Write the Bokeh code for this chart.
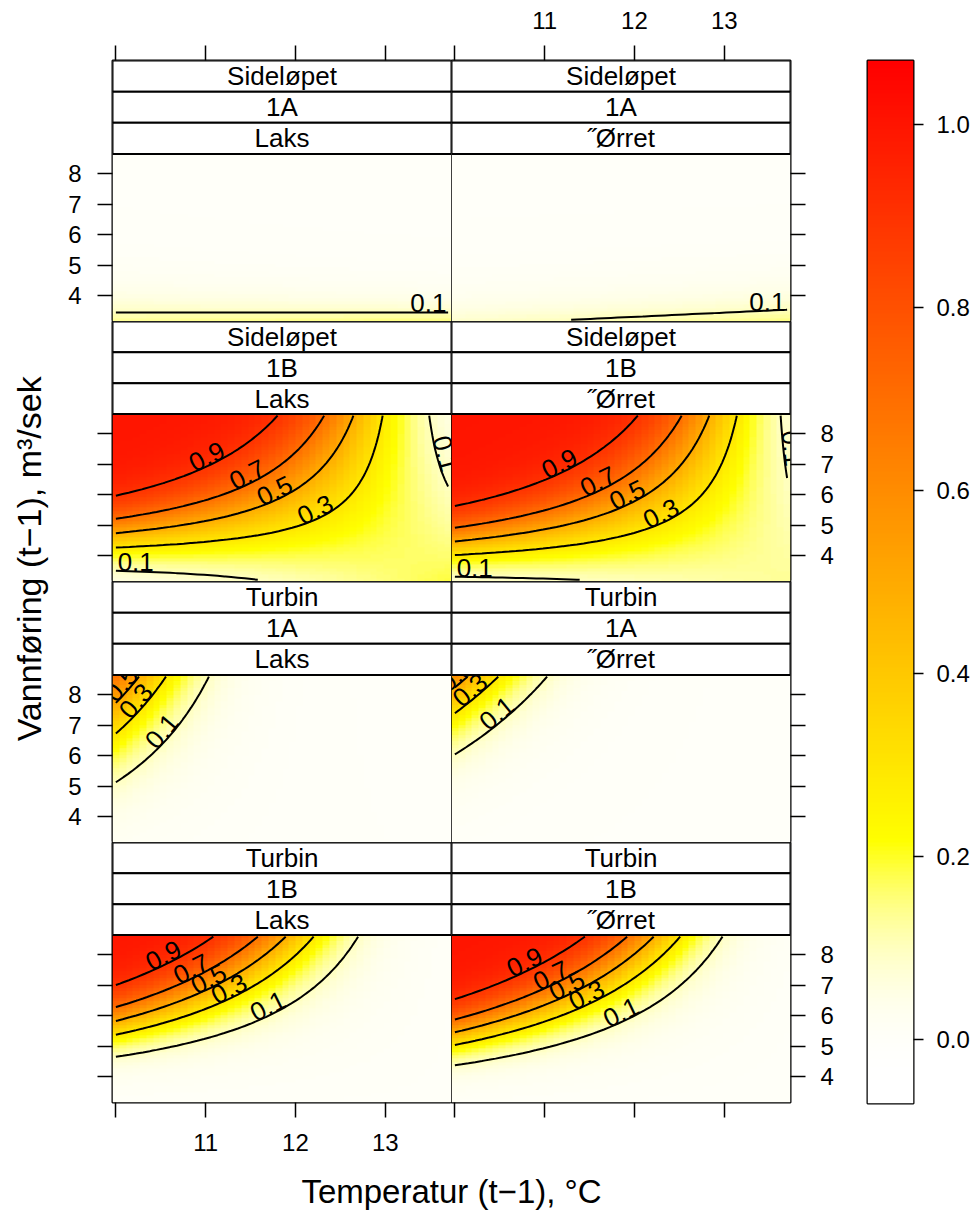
import colorsys
import numpy as np
import contourpy
from bokeh.plotting import figure
from bokeh.layouts import row, column
from bokeh.models import (Range1d, LinearColorMapper, FixedTicker, LinearAxis,
                          ColumnDataSource, PrintfTickFormatter)
from bokeh.core.properties import value
from bokeh.embed import file_html
from bokeh.resources import INLINE

# ------------------------------------------------------------------ data
location = ["Sideløpet", "Sideløpet", "Sideløpet", "Sideløpet",
            "Turbin", "Turbin", "Turbin", "Turbin"]
site = ["1A", "1A", "1B", "1B", "1A", "1A", "1B", "1B"]
species = ["Laks", "˝Ørret", "Laks", "˝Ørret", "Laks", "˝Ørret", "Laks", "˝Ørret"]

# fitted surface per panel (read from the contour positions):
# logit(p) = intercept + temp_coef*(T-10) + flow_coef*(Q-4) + interaction*(T-10)*(Q-4)
intercept = [-2.912, -3.456, -1.325, -0.893, -3.152, -4.240, -3.420, -2.960]
temp_coef = [-0.0825, 0.179, -0.090, -0.285, -1.220, -1.290, -0.513, -0.703]
flow_coef = [-1.30, -1.30, 1.79, 1.90, 0.845, 1.00, 1.87, 2.03]
interaction = [-0.15, 0.0, -0.548, -0.540, -0.350, -0.260, -0.483, -0.4725]
temp_centre = 10.0
flow_centre = 4.0

temp_limits = [10.0, 13.7]
flow_limits = [3.21, 8.59]
n_grid = 50

temp_ticks = [10, 11, 12, 13]
temp_unlabelled = [10]
flow_ticks = [4, 5, 6, 7, 8]
contour_levels = [0.1, 0.3, 0.5, 0.7, 0.9]
contour_labels = ["0.1", "0.3", "0.5", "0.7", "0.9"]
key_limits = [-0.07, 1.07]
key_ticks = [0.0, 0.2, 0.4, 0.6, 0.8, 1.0]

x_title = "Temperatur (t−1), °C"
y_title = "Vannføring (t−1), m³/sek"

# ------------------------------------------------------------------ style / layout
FONT = "Liberation Sans"
YT_W = 56            # width of the y-title column
LEFT_B = 56          # left border of left-column panels
PANEL_W = 339
PANEL_H = 167.5
FRAME_H = [261, 260, 261, 260]
TOP_B = 60
BOTTOM_B = 62
RIGHT_B = 60
XT_H = 52
TOTAL_H = 1216
TICK_FS = "24px"
STRIP_FS = "26px"
LAB_FS = 26
XTITLE_FS = "33px"
YTITLE_FS = "34px"
LW = 2


def heat(u):
    if u < 0.25:
        h, s = 1 / 6, (u / 0.25) ** 2.6
    else:
        h, s = (1 / 6) * (1 - (u - 0.25) / 0.75), 1.0
    r, g, b = colorsys.hsv_to_rgb(h, s, 1.0)
    return "#%02x%02x%02x" % (round(r * 255), round(g * 255), round(b * 255))


palette = [heat(k / 255) for k in range(256)]
mapper = LinearColorMapper(palette=palette, low=key_limits[0], high=key_limits[1])

T = np.linspace(temp_limits[0], temp_limits[1], n_grid)
Q = np.linspace(flow_limits[0], flow_limits[1], n_grid)
dT = T[1] - T[0]
dQ = Q[1] - Q[0]
x_lo, x_hi = T[0] - dT / 2, T[-1] + dT / 2
q_lo, q_hi = Q[0] - dQ / 2, Q[-1] + dQ / 2
TT, QQ = np.meshgrid(T, Q)


def surface(i):
    t = TT - temp_centre
    q = QQ - flow_centre
    eta = intercept[i] + temp_coef[i] * t + flow_coef[i] * q + interaction[i] * t * q
    return 1.0 / (1.0 + np.exp(-eta))


def add_axis(p, side, ticks, show, standoff, tick_out=15, hide=None, fmt=None):
    ax = LinearAxis(ticker=FixedTicker(ticks=ticks))
    ax.axis_line_color = None
    ax.major_tick_out = tick_out
    ax.major_tick_in = 0
    ax.major_tick_line_color = "black"
    ax.major_tick_line_width = 1.5
    ax.minor_tick_line_color = None
    ax.major_label_standoff = standoff
    ax.major_label_text_font = FONT
    ax.major_label_text_font_size = TICK_FS
    if show:
        ax.major_label_text_color = "black"
    else:
        ax.major_label_text_color = None
        ax.major_label_text_alpha = 0
    if fmt is not None:
        ax.formatter = fmt
    if hide and show:
        ax.major_label_overrides = {h: "" for h in hide}
    p.add_layout(ax, side)


def make_panel(i, r, c):
    fh = FRAME_H[r]
    y_end = q_lo + (q_hi - q_lo) * fh / PANEL_H
    if c == 0:
        width, mbl, mbr = LEFT_B + PANEL_W, LEFT_B, 0
    else:
        width, mbl, mbr = PANEL_W + RIGHT_B, 0, RIGHT_B
    mbt = TOP_B if r == 0 else 0
    mbb = BOTTOM_B if r == 3 else 0
    p = figure(width=width, height=fh + mbt + mbb,
               x_range=Range1d(x_lo, x_hi), y_range=Range1d(q_lo, y_end),
               x_axis_type=None, y_axis_type=None,
               toolbar_location=None, output_backend="svg",
               min_border=0, min_border_left=mbl, min_border_right=mbr,
               min_border_top=mbt, min_border_bottom=mbb)
    p.outline_line_color = "black"
    p.outline_line_width = LW
    p.background_fill_color = "white"
    p.border_fill_color = "white"

    Z = surface(i)
    p.image(image=[Z], x=x_lo, y=q_lo, dw=x_hi - x_lo, dh=q_hi - q_lo,
            color_mapper=mapper)

    gen = contourpy.contour_generator(x=T, y=Q, z=Z, line_type="Separate")
    sx = PANEL_W / (x_hi - x_lo)
    sy = PANEL_H / (q_hi - q_lo)
    lxs, lys = [], []
    tx, ty, tt, ta = [], [], [], []
    half = 0.7 * LAB_FS + 5
    for lev, lab in zip(contour_levels, contour_labels):
        for seg in gen.lines(lev):
            if len(seg) < 2:
                continue
            lxs.append(list(seg[:, 0]))
            lys.append(list(seg[:, 1]))
            X = (seg[:, 0] - x_lo) * sx
            Y = (seg[:, 1] - q_lo) * sy
            dX = np.diff(X)
            dY = np.diff(Y)
            if np.ptp(Y) < 20 and np.ptp(X) > 60:
                dXs = np.where(np.abs(dX) < 1e-9, 1e-9, dX)
                sl = np.abs(dY / dXs)
                cand = np.where(sl <= sl.min() + 1e-3)[0]
                k = cand[np.argmax(X[cand] + X[cand + 1])]
                px = (X[k] + X[k + 1]) / 2
                px = min(max(px, half), PANEL_W - half)
                order = np.argsort(X)
                py = np.interp(px, X[order], Y[order])
                ang = 0.0
            else:
                rX = np.ptp(X) or 1.0
                rY = np.ptp(Y) or 1.0
                depth = np.minimum(np.minimum(X - X.min(), X.max() - X) / rX,
                                   np.minimum(Y - Y.min(), Y.max() - Y) / rY)
                k = min(int(np.argmax(depth)), len(dX) - 1)
                px, py = X[k], Y[k]
                ang = np.arctan(dY[k] / dX[k]) if abs(dX[k]) > 1e-9 else np.pi / 2
            tx.append(x_lo + px / sx)
            ty.append(q_lo + py / sy)
            tt.append(lab)
            ta.append(ang)
    if lxs:
        p.multi_line(xs=lxs, ys=lys, line_color="black", line_width=LW)
    if tx:
        p.text(x="x", y="y", text="t", angle="a",
               source=ColumnDataSource(dict(x=tx, y=ty, t=tt, a=ta)),
               text_align="center", text_baseline="bottom",
               text_font=value(FONT), text_font_size="%dpx" % LAB_FS,
               text_color="black")

    # strips (top: location, middle: site, bottom: species)
    sh = (y_end - q_hi) / 3.0
    bottoms = [q_hi + 2 * sh, q_hi + sh, q_hi]
    tops = [b + sh for b in bottoms]
    p.quad(left=[x_lo] * 3, right=[x_hi] * 3, bottom=bottoms, top=tops,
           fill_color="white", line_color="black", line_width=LW)
    p.text(x=[(x_lo + x_hi) / 2] * 3, y=[b + sh / 2 for b in bottoms],
           text=[location[i], site[i], species[i]],
           text_align="center", text_baseline="middle",
           text_font=value(FONT), text_font_size=STRIP_FS, text_color="black")

    # alternating axes
    if c == 0:
        add_axis(p, "left", flow_ticks, r in (0, 2), 16)
    else:
        add_axis(p, "right", flow_ticks, r in (1, 3), 15)
    if r == 0:
        add_axis(p, "above", temp_ticks, c == 1, 17, hide=temp_unlabelled)
    if r == 3:
        add_axis(p, "below", temp_ticks, c == 0, 16, hide=temp_unlabelled)
    return p


rows = []
for r in range(4):
    rows.append(row(make_panel(2 * r, r, 0), make_panel(2 * r + 1, r, 1)))

center_w = LEFT_B + PANEL_W + PANEL_W + RIGHT_B
xt = figure(width=center_w, height=XT_H, x_range=Range1d(0, center_w),
            y_range=Range1d(0, XT_H), x_axis_type=None, y_axis_type=None,
            toolbar_location=None, output_backend="svg", min_border=0)
xt.outline_line_color = None
xt.text(x=[LEFT_B + PANEL_W], y=[25], text=[x_title], text_align="center",
        text_baseline="alphabetic", text_font=value(FONT),
        text_font_size=XTITLE_FS, text_color="black")

yt = figure(width=YT_W, height=TOTAL_H, x_range=Range1d(0, YT_W),
            y_range=Range1d(0, TOTAL_H), x_axis_type=None, y_axis_type=None,
            toolbar_location=None, output_backend="svg", min_border=0)
yt.outline_line_color = None
panels_mid = TOP_B + sum(FRAME_H) / 2
yt.text(x=[YT_W / 2], y=[TOTAL_H - panels_mid], text=[y_title], angle=np.pi / 2,
        text_align="center", text_baseline="middle", text_font=value(FONT),
        text_font_size=YTITLE_FS, text_color="black")

key_w = 977 - YT_W - center_w
kp = figure(width=key_w, height=TOTAL_H, x_range=Range1d(0, 1),
            y_range=Range1d(key_limits[0], key_limits[1]),
            x_axis_type=None, y_axis_type=None, toolbar_location=None,
            output_backend="svg", min_border=0, min_border_left=17,
            min_border_right=key_w - 17 - 46, min_border_top=TOP_B,
            min_border_bottom=TOTAL_H - TOP_B - 1043)
kp.outline_line_color = "black"
kp.outline_line_width = LW
vals = np.linspace(key_limits[0], key_limits[1], 256).reshape(-1, 1)
kp.image(image=[vals], x=0, y=key_limits[0], dw=1, dh=key_limits[1] - key_limits[0],
         color_mapper=mapper)
add_axis(kp, "right", key_ticks, True, 13, tick_out=10,
         fmt=PrintfTickFormatter(format="%.1f"))

layout = row(yt, column(*rows, xt), kp)
open("out.html", "w").write(file_html(layout, INLINE))
